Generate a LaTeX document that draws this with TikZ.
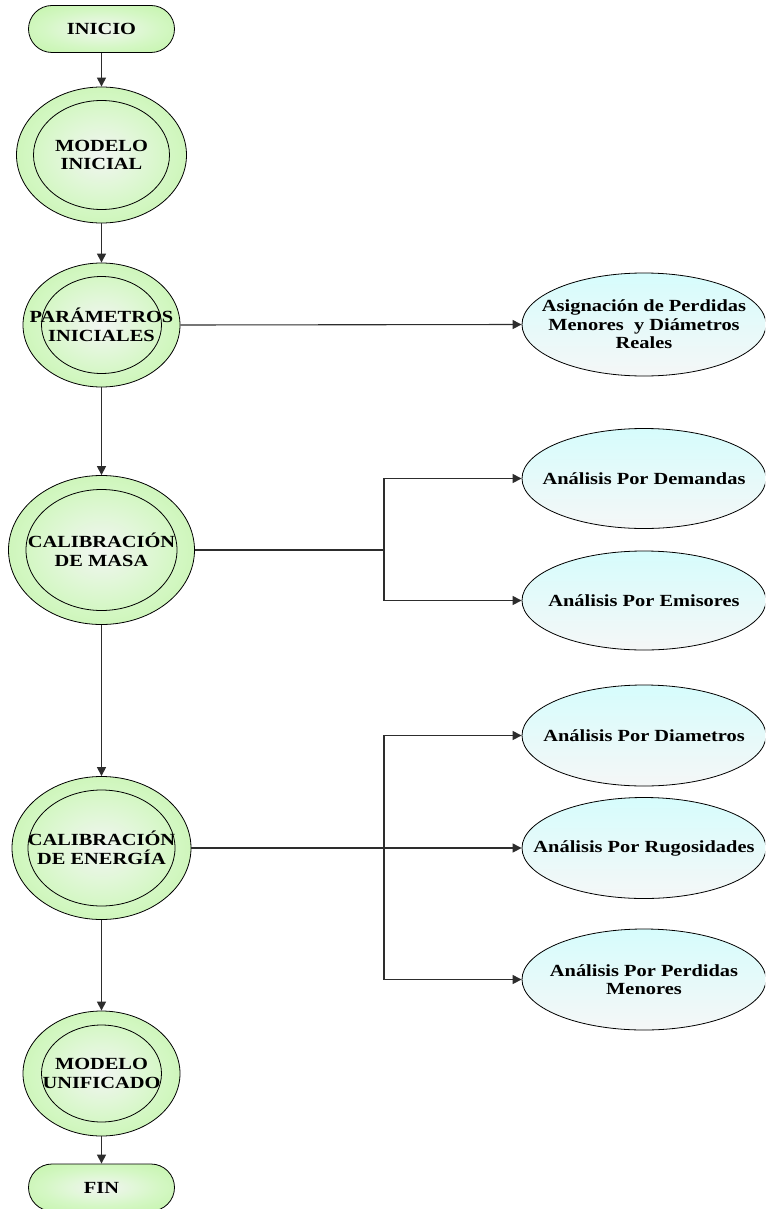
\documentclass[tikz,border=0pt]{standalone}
\usepackage{fontspec}
\setmainfont{Liberation Serif}
\newfontfamily\lblfont[FakeStretch=1.2]{Liberation Serif}
\usetikzlibrary{arrows.meta,shapes.geometric,shapes.misc}
\definecolor{gedge}{RGB}{192,244,165}
\definecolor{gmid}{RGB}{212,247,196}
\definecolor{gcenter}{RGB}{242,246,242}
\definecolor{btop}{RGB}{214,252,252}
\definecolor{bbot}{RGB}{245,247,247}
\definecolor{conn}{RGB}{45,45,45}
\pgfdeclareradialshading{greenrad}{\pgfpoint{0bp}{0bp}}{color(0bp)=(gcenter); color(20bp)=(gmid); color(38bp)=(gedge); color(50bp)=(gedge)}
\tikzset{
  x=1pt, y=1pt,
  lbl/.style={font=\lblfont\bfseries\fontsize{17}{18.5}\selectfont, align=center, inner sep=0pt},
  outerell/.style={ellipse, draw=black, line width=0.8pt, shading=greenrad, inner sep=0pt},
  innerell/.style={ellipse, draw=black, line width=0.8pt, inner sep=0pt},
  term/.style={rounded rectangle, draw=black, line width=0.8pt, shading=greenrad, inner sep=0pt, minimum width=146pt, minimum height=47pt},
  blueell/.style={ellipse, draw=black, line width=0.8pt, top color=btop, bottom color=bbot, inner sep=0pt, minimum width=244pt},
  arr/.style={draw=conn, line width=1.1pt, -{Triangle[length=9pt,width=9pt]}},
  ln/.style={draw=conn, line width=1.1pt},
}
\begin{document}
\begin{tikzpicture}
\clip (0,0) rectangle (765,-1209);
\fill[white] (0,0) rectangle (765,-1209);

% left column
\node[term] (ini) at (101.5,-29) {};
\node[lbl] (iniT) at (ini) {INICIO};

\node[outerell, minimum width=170pt, minimum height=136pt] (mi) at (101.5,-155) {};
\node[innerell, minimum width=136pt, minimum height=109pt] (miI) at (mi) {};
\node[lbl] (miT) at (mi) {MODELO\\INICIAL};

\node[outerell, minimum width=157pt, minimum height=124pt] (pi) at (101.5,-325) {};
\node[innerell, minimum width=120pt, minimum height=97pt] (piI) at (pi) {};
\node[lbl] (piT) at (pi) {PARÁMETROS\\INICIALES};

\node[outerell, minimum width=186pt, minimum height=149pt] (cm) at (101.5,-550) {};
\node[innerell, minimum width=151pt, minimum height=121pt] (cmI) at (cm) {};
\node[lbl] (cmT) at (cm) {CALIBRACIÓN\\DE MASA};

\node[outerell, minimum width=179pt, minimum height=143pt] (ce) at (101.5,-848) {};
\node[innerell, minimum width=147pt, minimum height=116pt] (ceI) at (ce) {};
\node[lbl] (ceT) at (ce) {CALIBRACIÓN\\DE ENERGÍA};

\node[outerell, minimum width=157pt, minimum height=125pt] (mu) at (101.5,-1073.5) {};
\node[innerell, minimum width=120pt, minimum height=97pt] (muI) at (mu) {};
\node[lbl] (muT) at (mu) {MODELO\\UNIFICADO};

\node[term] (fin) at (101.5,-1187.5) {};
\node[lbl] (finT) at (fin) {FIN};

% right column
\node[blueell, minimum height=103pt] (asig) at (644,-324.5) {};
\node[lbl] (asigT) at (asig) {Asignación de Perdidas\\Menores~ y Diámetros\\Reales};

\node[blueell, minimum height=100pt] (dem) at (644,-478.5) {};
\node[lbl] (demT) at (dem) {Análisis Por Demandas};

\node[blueell, minimum height=99pt] (emi) at (644,-600.5) {};
\node[lbl] (emiT) at (emi) {Análisis Por Emisores};

\node[blueell, minimum height=101pt] (dia) at (644,-735.5) {};
\node[lbl] (diaT) at (dia) {Análisis Por Diametros};

\node[blueell, minimum height=101pt] (rug) at (644,-848) {};
\node[lbl] (rugT) at (rug) {Análisis Por Rugosidades};

\node[blueell, minimum height=101pt] (per) at (644,-979.5) {};
\node[lbl] (perT) at (per) {Análisis Por Perdidas\\Menores};

% junctions
\coordinate (jm) at (384,-550);
\coordinate (je) at (384,-848);

% vertical flow
\draw[arr] (ini.south) -- (mi.north);
\draw[arr] (mi.south) -- (pi.north);
\draw[arr] (pi.south) -- (cm.north);
\draw[arr] (cm.south) -- (ce.north);
\draw[arr] (ce.south) -- (mu.north);
\draw[arr] (mu.south) -- (fin.north);

% branches
\draw[arr] (pi.east) -- (asig.west);
\draw[ln] (cm.east) -- (jm);
\draw[arr] (jm) |- (dem.west);
\draw[arr] (jm) |- (emi.west);
\draw[arr] (ce.east) -- (rug.west);
\draw[arr] (je) |- (dia.west);
\draw[arr] (je) |- (per.west);
\end{tikzpicture}
\end{document}
